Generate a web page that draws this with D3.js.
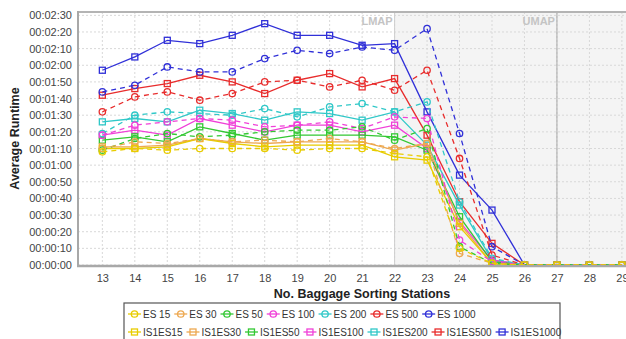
<!DOCTYPE html>
<head>
	<meta charset="utf-8">
	<title>Average Runtime per Baggage Sorting Stations</title>
	<script src="https://d3js.org/d3.v7.min.js"></script>
	<style>
	body {
		margin:0;
		background:#ffffff;
		font-family:"Liberation Sans", Arial, sans-serif;
	}
	.grid line {
		stroke:#d8d8d8;
		stroke-dasharray:2,2;
	}
	.ticklabel {
		font-size:11px;
		fill:#444444;
	}
	.axistitle {
		font-size:12.5px;
		font-weight:bold;
		fill:#222222;
	}
	.marklabel {
		font-size:11px;
		font-weight:bold;
		fill:#c4c4c4;
	}
	.legendtext {
		font-size:10px;
		fill:#333333;
	}
	</style>
</head>
<body>
<div class="chartContainer"></div>
<script>
// stations 13..29, runtimes in seconds
var stations=[13,14,15,16,17,18,19,20,21,22,23,24,25,26,27,28,29];
var yTicks=[0,10,20,30,40,50,60,70,80,90,100,110,120,130,140,150];

var es15=[68,70,69,70,70,70,69,70,70,67,65,10,1,0,0,0,0];
var es30=[70,74,73,76,74,75,74,76,74,70,73,7,1,0,0,0,0];
var es50=[69,76,79,77,78,80,81,81,83,75,82,11,1,0,0,0,0];
var es100=[78,84,86,88,87,83,84,86,82,89,88,15,2,0,0,0,0];
var es200=[79,90,92,91,90,94,89,95,97,92,98,38,4,0,0,0,0];
var es500=[92,101,104,99,103,110,111,107,111,105,117,64,6,0,0,0,0];
var es1000=[104,108,119,116,116,124,129,127,131,129,142,79,11,0,0,0,0];
var is1es15=[70,70,71,76,73,71,72,72,72,65,63,23,1,0,0,0,0];
var is1es30=[71,71,72,76,74,73,74,74,74,69,73,25,1,0,0,0,0];
var is1es50=[75,77,74,83,79,75,78,78,78,77,69,29,2,0,0,0,0];
var is1es100=[78,81,78,88,84,80,84,84,80,84,70,26,3,0,0,0,0];
var is1es200=[86,88,86,93,91,87,92,91,87,92,72,36,3,0,0,0,0];
var is1es500=[102,106,109,114,110,103,111,115,107,112,78,38,13,0,0,0,0];
var is1es1000=[117,125,135,133,138,145,138,138,132,133,92,54,33,0,0,0,0];

var lmap=22, umap=27;

var colors=["#e8cc00","#eda850","#33c833","#f040d8","#30c8c8","#e82c2c","#3030d8"];

var series=[
	{name:"ES 15",values:es15,color:colors[0],dashed:true},
	{name:"ES 30",values:es30,color:colors[1],dashed:true},
	{name:"ES 50",values:es50,color:colors[2],dashed:true},
	{name:"ES 100",values:es100,color:colors[3],dashed:true},
	{name:"ES 200",values:es200,color:colors[4],dashed:true},
	{name:"ES 500",values:es500,color:colors[5],dashed:true},
	{name:"ES 1000",values:es1000,color:colors[6],dashed:true},
	{name:"IS1ES15",values:is1es15,color:colors[0],dashed:false},
	{name:"IS1ES30",values:is1es30,color:colors[1],dashed:false},
	{name:"IS1ES50",values:is1es50,color:colors[2],dashed:false},
	{name:"IS1ES100",values:is1es100,color:colors[3],dashed:false},
	{name:"IS1ES200",values:is1es200,color:colors[4],dashed:false},
	{name:"IS1ES500",values:is1es500,color:colors[5],dashed:false},
	{name:"IS1ES1000",values:is1es1000,color:colors[6],dashed:false}
];

var totalWidth=626, totalHeight=339;
var plot={left:78, top:12, right:630, bottom:265};

var fmt=function(s) {
	var h=Math.floor(s/3600), m=Math.floor(s/60)%60, sec=s%60;
	return [h,m,sec].map(function(v) { return (v<10?"0":"")+v; }).join(":");
};

var x=d3.scaleLinear().domain([12.25,29.25]).range([plot.left,plot.right]);
var y=d3.scaleLinear().domain([0,152]).range([plot.bottom,plot.top]);

var svg=d3.select(".chartContainer").append("svg")
	.attr("width",totalWidth)
	.attr("height",totalHeight);

svg.append("clipPath").attr("id","plotclip")
	.append("rect")
	.attr("x",plot.left).attr("y",plot.top)
	.attr("width",plot.right-plot.left).attr("height",plot.bottom-plot.top);

// shaded region past LMAP
svg.append("rect")
	.attr("x",x(lmap)).attr("y",plot.top)
	.attr("width",plot.right-x(lmap)).attr("height",plot.bottom-plot.top)
	.attr("fill","#f4f4f4");

var grid=svg.append("g").attr("class","grid");
grid.selectAll(".gy").data(yTicks).enter().append("line")
	.attr("x1",plot.left).attr("x2",plot.right)
	.attr("y1",function(d) { return y(d); }).attr("y2",function(d) { return y(d); });
grid.selectAll(".gx").data(stations).enter().append("line")
	.attr("y1",plot.top).attr("y2",plot.bottom)
	.attr("x1",function(d) { return x(d); }).attr("x2",function(d) { return x(d); });

// LMAP / UMAP markers
svg.append("line").attr("x1",x(lmap)).attr("x2",x(lmap))
	.attr("y1",plot.top).attr("y2",plot.bottom).attr("stroke","#cfcfcf");
svg.append("line").attr("x1",x(umap)).attr("x2",x(umap))
	.attr("y1",plot.top).attr("y2",plot.bottom).attr("stroke","#a8a8a8");
svg.append("text").attr("class","marklabel").attr("text-anchor","end")
	.attr("x",x(lmap)-2).attr("y",plot.top+13).text("LMAP");
svg.append("text").attr("class","marklabel").attr("text-anchor","end")
	.attr("x",x(umap)-2).attr("y",plot.top+13).text("UMAP");

// frame
svg.append("line").attr("x1",plot.left).attr("x2",plot.right)
	.attr("y1",plot.top).attr("y2",plot.top).attr("stroke","#b4b4b4").attr("stroke-width",2);
svg.append("line").attr("x1",plot.left).attr("x2",plot.left)
	.attr("y1",plot.top-1).attr("y2",plot.bottom+1).attr("stroke","#a8a8a8").attr("stroke-width",2);
svg.append("line").attr("x1",plot.left-1).attr("x2",plot.right)
	.attr("y1",plot.bottom+1).attr("y2",plot.bottom+1).attr("stroke","#a8a8a8").attr("stroke-width",2.5);

// axes labels
var yAxis=d3.axisLeft(y).tickValues(yTicks).tickFormat(fmt).tickSize(0).tickPadding(6);
var gy=svg.append("g").attr("transform","translate("+plot.left+",0)").call(yAxis);
gy.select(".domain").remove();
gy.selectAll("text").attr("class","ticklabel").attr("font-family",null).attr("font-size",null);

var xAxis=d3.axisBottom(x).tickValues(stations).tickFormat(d3.format("d")).tickSize(0).tickPadding(7);
var gx=svg.append("g").attr("transform","translate(0,"+(plot.bottom+2)+")").call(xAxis);
gx.select(".domain").remove();
gx.selectAll("text").attr("class","ticklabel").attr("font-family",null).attr("font-size",null);

svg.append("text").attr("class","axistitle").attr("text-anchor","middle")
	.attr("transform","translate(19,"+((plot.top+plot.bottom)/2)+") rotate(-90)")
	.text("Average Runtime");
svg.append("text").attr("class","axistitle").attr("text-anchor","middle")
	.attr("x",362).attr("y",298)
	.text("No. Baggage Sorting Stations");

// series
var line=d3.line()
	.x(function(d, i) { return x(stations[i]); })
	.y(function(d) { return y(d); });

var drawMarker=function(g, s, cx, cy) {
	if (s.dashed) {
		g.append("circle").attr("cx",cx).attr("cy",cy).attr("r",3.2)
			.attr("fill","none").attr("stroke",s.color).attr("stroke-width",1.3);
	} else {
		g.append("rect").attr("x",cx-3).attr("y",cy-3).attr("width",6).attr("height",6)
			.attr("fill","none").attr("stroke",s.color).attr("stroke-width",1.3);
	}
};

var plotG=svg.append("g").attr("clip-path","url(#plotclip)");
series.slice().reverse().forEach(function(s) {
	var g=plotG.append("g");
	g.append("path")
		.attr("d",line(s.values))
		.attr("fill","none")
		.attr("stroke",s.color)
		.attr("stroke-width",1.3)
		.attr("stroke-dasharray",s.dashed?"5,4":null);
	s.values.forEach(function(v, i) {
		drawMarker(g, s, x(stations[i]), y(v));
	});
});

// legend
var legend=svg.append("g");
legend.append("rect")
	.attr("x",124).attr("y",303).attr("width",436).attr("height",40)
	.attr("fill","#ffffff").attr("stroke","#555555").attr("stroke-width",1.2);
var rows=[series.slice(0,7),series.slice(7)];
rows.forEach(function(row, r) {
	var cx=128, cy=314+r*18;
	row.forEach(function(s) {
		var g=legend.append("g");
		g.append("line").attr("x1",cx).attr("x2",cx+13).attr("y1",cy).attr("y2",cy)
			.attr("stroke",s.color).attr("stroke-width",1.3);
		drawMarker(g, s, cx+6.5, cy);
		var t=g.append("text").attr("class","legendtext")
			.attr("x",cx+15).attr("y",cy+3.5).text(s.name);
		cx+=15+t.node().getComputedTextLength()+4;
	});
});
</script>
</body>
</html>
